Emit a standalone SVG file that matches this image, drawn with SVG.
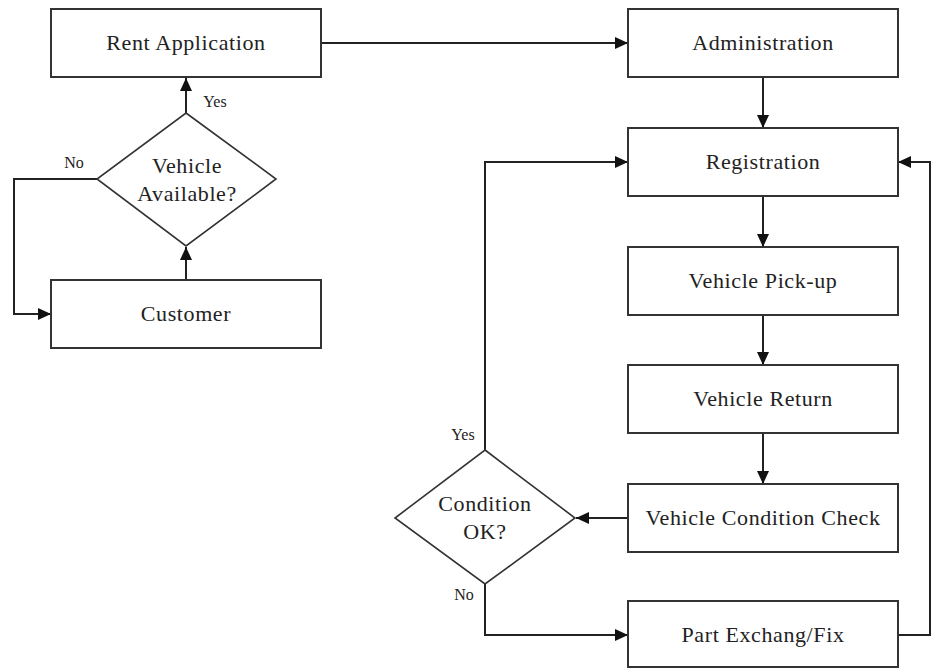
<svg xmlns="http://www.w3.org/2000/svg" width="933" height="669" viewBox="0 0 933 669">
  <defs>
    <style>
      .box { fill: #ffffff; stroke: #333333; stroke-width: 2; }
      .dia { fill: #ffffff; stroke: #333333; stroke-width: 1.6; }
      .lbl { font-family: "Liberation Serif", "Times New Roman", "DejaVu Serif", serif; font-size: 22px; letter-spacing: 0.6px; fill: #222222; text-anchor: middle; }
      .small { font-family: "Liberation Serif", "Times New Roman", "DejaVu Serif", serif; font-size: 16px; fill: #222222; text-anchor: middle; }
      .edge { fill: none; stroke: #222222; stroke-width: 2; }
    </style>
    <marker id="arrow" markerUnits="userSpaceOnUse" markerWidth="14" markerHeight="12" refX="13" refY="6" orient="auto">
      <path d="M0,0 L13,6 L0,12 Z" fill="#111111"/>
    </marker>
  </defs>

  <rect width="933" height="669" fill="#ffffff"/>

  <!-- connectors -->
  <g id="connectors">
    <path class="edge" d="M321,43 L628,43" marker-end="url(#arrow)"/>
    <path class="edge" d="M186,113 L186,78" marker-end="url(#arrow)"/>
    <path class="edge" d="M186,280 L186,247" marker-end="url(#arrow)"/>
    <path class="edge" d="M97,179 L14,179 L14,314 L51,314" marker-end="url(#arrow)"/>
    <path class="edge" d="M763,77 L763,128" marker-end="url(#arrow)"/>
    <path class="edge" d="M763,196 L763,247" marker-end="url(#arrow)"/>
    <path class="edge" d="M763,315 L763,365" marker-end="url(#arrow)"/>
    <path class="edge" d="M763,433 L763,484" marker-end="url(#arrow)"/>
    <path class="edge" d="M628,518 L576,518" marker-end="url(#arrow)"/>
    <path class="edge" d="M485,450 L485,162 L628,162" marker-end="url(#arrow)"/>
    <path class="edge" d="M485,584 L485,635 L628,635" marker-end="url(#arrow)"/>
    <path class="edge" d="M898,635 L930,635 L930,162 L898,162" marker-end="url(#arrow)"/>
    <text class="small" x="215" y="107">Yes</text>
    <text class="small" x="74" y="168">No</text>
    <text class="small" x="463" y="440">Yes</text>
    <text class="small" x="464" y="600">No</text>
  </g>

  <g id="rent-application">
    <rect class="box" x="51" y="9" width="270" height="68"/>
    <text class="lbl" x="186" y="50">Rent Application</text>
  </g>

  <g id="vehicle-available">
    <polygon class="dia" points="186,113 276,179 186,246 97,179"/>
    <text class="lbl" x="187" y="173">Vehicle</text>
    <text class="lbl" x="187" y="201">Available?</text>
  </g>

  <g id="customer">
    <rect class="box" x="51" y="280" width="270" height="68"/>
    <text class="lbl" x="186" y="321">Customer</text>
  </g>

  <g id="administration">
    <rect class="box" x="628" y="9" width="270" height="68"/>
    <text class="lbl" x="763" y="50">Administration</text>
  </g>

  <g id="registration">
    <rect class="box" x="628" y="128" width="270" height="68"/>
    <text class="lbl" x="763" y="169">Registration</text>
  </g>

  <g id="vehicle-pickup">
    <rect class="box" x="628" y="247" width="270" height="68"/>
    <text class="lbl" x="763" y="288">Vehicle Pick-up</text>
  </g>

  <g id="vehicle-return">
    <rect class="box" x="628" y="365" width="270" height="68"/>
    <text class="lbl" x="763" y="406">Vehicle Return</text>
  </g>

  <g id="condition-check">
    <rect class="box" x="628" y="484" width="270" height="68"/>
    <text class="lbl" x="763" y="525">Vehicle Condition Check</text>
  </g>

  <g id="condition-ok">
    <polygon class="dia" points="485,450 575,518 485,584 395,518"/>
    <text class="lbl" x="485" y="511">Condition</text>
    <text class="lbl" x="485" y="539">OK?</text>
  </g>

  <g id="part-exchange">
    <rect class="box" x="628" y="601" width="270" height="66"/>
    <text class="lbl" x="763" y="642">Part Exchang/Fix</text>
  </g>
</svg>
